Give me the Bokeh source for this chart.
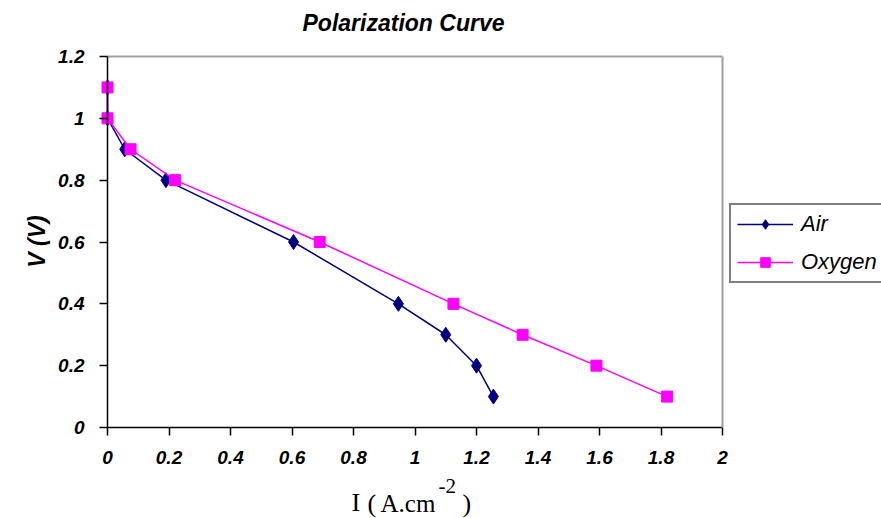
import numpy as np
from bokeh.plotting import figure
from bokeh.models import (Range1d, Legend, LegendItem, Label, FixedTicker,
                          NumeralTickFormatter, LinearAxis)
from bokeh.embed import file_html
from bokeh.resources import INLINE

# ---- data ----
air_i = [0.0, 0.0, 0.056, 0.19, 0.605, 0.946, 1.10, 1.20, 1.255]
air_v = [1.1, 1.0, 0.9, 0.8, 0.6, 0.4, 0.3, 0.2, 0.1]
oxy_i = [0.0, 0.0, 0.075, 0.22, 0.69, 1.125, 1.35, 1.59, 1.82]
oxy_v = [1.1, 1.0, 0.9, 0.8, 0.6, 0.4, 0.3, 0.2, 0.1]
series_names = ["Air", "Oxygen"]
x_ticks = [0, 0.2, 0.4, 0.6, 0.8, 1, 1.2, 1.4, 1.6, 1.8, 2]
y_ticks = [0, 0.2, 0.4, 0.6, 0.8, 1, 1.2]
x_min, x_max = 0, 2
y_min, y_max = 0, 1.2
title_text = "Polarization Curve"
y_label_text = "V (V)"

AIR_COLOR = "#000080"
OXY_COLOR = "#FF00FF"

# ---- layout: the plotting frame covers the whole canvas; the axes are pinned
W, H = 881, 518
PX_LEFT, PX_RIGHT = 107, 722     # pixel columns of I = 0 and I = 2
PX_BOTTOM, PX_TOP = 427, 56      # pixel rows of V = 0 and V = 1.2
kx = (x_max - x_min) / (PX_RIGHT - PX_LEFT)
ky = (y_max - y_min) / (PX_BOTTOM - PX_TOP)
xr = Range1d(x_min - PX_LEFT * kx, x_max + (W - PX_RIGHT) * kx)
yr = Range1d(y_min - (H - PX_BOTTOM) * ky, y_max + PX_TOP * ky)

p = figure(width=W, height=H, x_range=xr, y_range=yr,
           output_backend="svg", toolbar_location=None,
           min_border=0, min_border_left=0, min_border_right=0,
           min_border_top=0, min_border_bottom=0)
p.background_fill_color = "white"
p.border_fill_color = "white"
p.grid.visible = False
p.outline_line_color = None

for ax, ticks, bnds in ((p.xaxis[0], x_ticks, (x_min, x_max)),
                        (p.yaxis[0], y_ticks, (y_min, y_max))):
    ax.fixed_location = 0
    ax.bounds = bnds
    ax.ticker = FixedTicker(ticks=ticks)
    ax.formatter = NumeralTickFormatter(format="0.[0]")
    ax.major_label_text_font = "Liberation Sans"
    ax.major_label_text_font_style = "bold italic"
    ax.major_label_text_font_size = "19px"
    ax.major_label_text_color = "black"
    ax.major_label_standoff = 15
    ax.major_tick_out = 8
    ax.major_tick_in = 0
    ax.minor_tick_out = 0
    ax.minor_tick_in = 0
    ax.axis_line_color = "black"
    ax.axis_line_width = 1.5
    ax.major_tick_line_color = "black"
    ax.major_tick_line_width = 1.5

# grey plot-area border on the top and right (as axes without ticks)
top_border = LinearAxis(fixed_location=y_max, bounds=(x_min, x_max),
                        ticker=FixedTicker(ticks=[]), axis_line_color="#a0a0a0",
                        axis_line_width=2, major_tick_out=0, minor_tick_out=0,
                        major_label_text_font_size="0px")
right_border = LinearAxis(fixed_location=x_max, bounds=(y_min, y_max),
                          ticker=FixedTicker(ticks=[]), axis_line_color="#a0a0a0",
                          axis_line_width=2, major_tick_out=0, minor_tick_out=0,
                          major_label_text_font_size="0px")
p.add_layout(top_border, "above")
p.add_layout(right_border, "right")

l_air = p.line(air_i, air_v, line_color=AIR_COLOR, line_width=1.5)
m_air = p.scatter(air_i, air_v, marker="diamond", size=15,
                  fill_color=AIR_COLOR, line_color=AIR_COLOR)
l_oxy = p.line(oxy_i, oxy_v, line_color=OXY_COLOR, line_width=1.5)
m_oxy = p.scatter(oxy_i, oxy_v, marker="square", size=11,
                  fill_color=OXY_COLOR, line_color=OXY_COLOR)

legend = Legend(items=[LegendItem(label=series_names[0], renderers=[l_air, m_air]),
                       LegendItem(label=series_names[1], renderers=[l_oxy, m_oxy])],
                location=(729, H - 283))
legend.border_line_color = "black"
legend.border_line_width = 2
legend.background_fill_color = "white"
legend.background_fill_alpha = 1
legend.padding = 6
legend.spacing = 12
legend.margin = 0
legend.glyph_width = 56
legend.glyph_height = 24
legend.label_height = 24
legend.label_standoff = 8
legend.label_text_font = "Liberation Sans"
legend.label_text_font_style = "italic"
legend.label_text_font_size = "22px"
legend.label_text_color = "black"
p.add_layout(legend)

def lab(x, y, text, **kw):
    # x, y: pixel position (text middle) measured from the canvas top-left
    p.add_layout(Label(x=x, y=H - y, x_units="screen", y_units="screen",
                       text=text, text_color="black", text_baseline="middle", **kw))

lab(403, 22, title_text, text_font="Liberation Sans", text_font_style="bold italic",
    text_font_size="23px", text_align="center")
lab(36, 241, y_label_text, text_font="Liberation Sans", text_font_style="bold italic",
    text_font_size="23px", text_align="center", angle=np.pi / 2)

serif = dict(text_font="Liberation Serif", text_align="left")
lab(351, 502, "I", text_font_size="26px", **serif)
lab(367, 503, "(", text_font_size="26px", **serif)
lab(380, 503, "A.cm", text_font_size="25px", **serif)
lab(438, 485, "-2", text_font_size="21px", **serif)
lab(462, 503, ")", text_font_size="26px", **serif)

open("out.html", "w").write(file_html(p, INLINE))
